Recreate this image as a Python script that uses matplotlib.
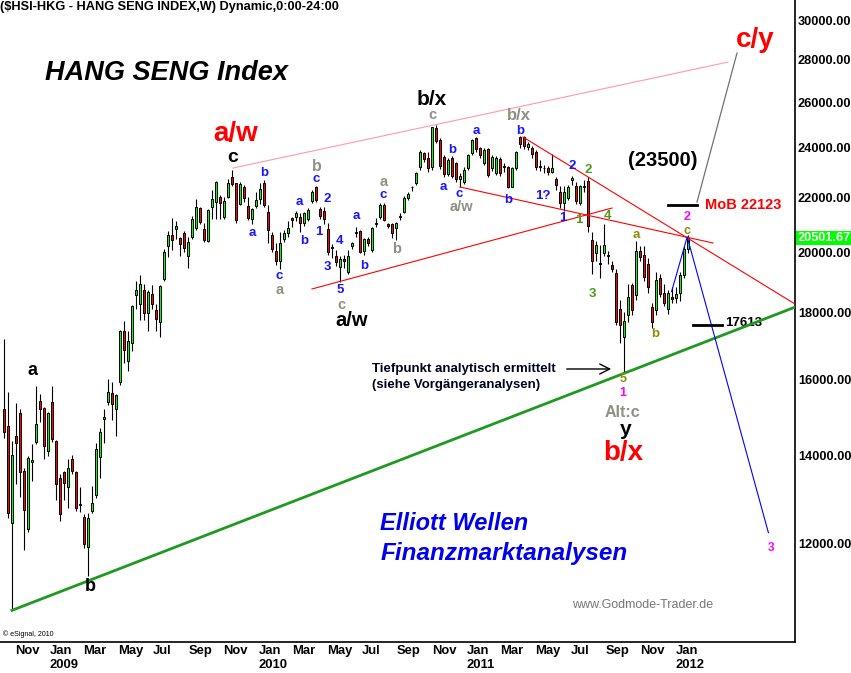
import numpy as np
import pandas as pd
import matplotlib
matplotlib.use('Agg')
import matplotlib.pyplot as plt
from matplotlib.ticker import NullLocator
import matplotlib.transforms as mtransforms

plt.rcParams['font.family'] = ['Liberation Sans', 'DejaVu Sans']

# weekly candles of the Hang Seng Index, first bar = week of 13 Oct 2008
start = pd.Timestamp('2008-10-13')
opens = [15180, 14740, 12440, 14480, 15090, 13620, 12310, 13850, 14350, 15410,
         15210, 14120, 15380, 14360, 13460, 13600, 13240, 13910, 13600, 12840,
         12570, 11920, 12710, 13060, 13960, 14940, 15370, 15620, 15200, 15930,
         17420, 16520, 17060, 18550, 18260, 18710, 17960, 18570, 18070, 17680,
         19070, 20220, 20600, 20810, 20490, 20670, 19870, 20520, 20870, 21590,
         20810, 20400, 21650, 21820, 22030, 21250, 22030, 22790, 22560, 21740,
         22400, 21680, 21180, 21680, 21930, 22560, 21460, 20600, 20040, 19690,
         20450, 20670, 21220, 21280, 21280, 21050, 21180, 21880, 22400, 21580,
         21500, 20810, 20180, 19860, 19490, 19740, 19300, 20200, 20720, 20750,
         20050, 20450, 20070, 21050, 21280, 21720, 20990, 20990, 20850, 21250,
         21460, 21970, 22400, 22580, 23220, 23800, 23570, 23200, 24840, 24330,
         23610, 22930, 23590, 23360, 22730, 22620, 23160, 23770, 24410, 23980,
         23360, 23940, 23160, 22950, 23530, 23250, 23200, 22420, 23160, 24450,
         24450, 24050, 23980, 23840, 23250, 23160, 23160, 23020, 22740, 22230,
         21780, 22000, 22700, 22450, 21780, 22420, 22650, 20420, 19950, 19630,
         19950, 19900, 19560, 19270, 18110, 17240, 17900, 18880, 18550, 20050,
         19900, 19600, 18150, 18080, 19100, 18600, 18110, 18500, 18450, 18600,
         19200, 20110]
highs = [17160, 15640, 14360, 15360, 15190, 13700, 14000, 14280, 15820, 15590,
         15250, 15120, 15820, 14400, 13560, 13620, 13920, 14010, 13620, 13240,
         12640, 12670, 13280, 14310, 14690, 15190, 16000, 15930, 15600, 17450,
         17720, 17420, 18230, 19010, 19210, 18910, 18710, 18880, 18260, 18880,
         20090, 20750, 21220, 21120, 20540, 20750, 20520, 21300, 21930, 21630,
         21030, 21580, 22290, 22650, 22100, 22030, 22730, 23100, 22580, 22600,
         22490, 22030, 21590, 22230, 22560, 22690, 21720, 20700, 20310, 20720,
         20790, 21120, 21260, 21500, 21400, 21450, 21600, 22290, 22450, 21650,
         21630, 21030, 20300, 20070, 19860, 19900, 20070, 20360, 20900, 20800,
         20500, 20550, 20900, 21220, 21800, 21800, 21050, 21050, 21090, 21400,
         22050, 22200, 22450, 23000, 23910, 23850, 23840, 24900, 24990, 24400,
         23700, 23600, 23660, 23420, 22950, 23200, 23750, 24370, 24480, 24050,
         24000, 24000, 23700, 23650, 23630, 23360, 23250, 23200, 23880, 24500,
         24500, 24250, 24100, 23900, 23500, 23300, 23250, 23750, 22800, 22460,
         22460, 22500, 22850, 22600, 22500, 22700, 22800, 20720, 20400, 20250,
         21020, 20050, 19700, 19400, 18400, 18000, 18900, 18950, 20400, 20200,
         20200, 19800, 18300, 19300, 19250, 18900, 18700, 18800, 18800, 19300,
         20200, 20600]
lows = [14450, 12550, 10676, 13320, 13010, 11870, 12250, 13400, 14300, 14860,
        13910, 13980, 14350, 12950, 12490, 12950, 12780, 13550, 12710, 12690,
        11900, 11344, 12670, 13000, 13470, 14320, 15300, 14890, 14490, 15850,
        16480, 16250, 16830, 18100, 17760, 17760, 17420, 18100, 17420, 17240,
        19020, 19840, 20070, 20450, 19860, 20010, 19460, 20450, 20800, 20990,
        20360, 20350, 21180, 21180, 21180, 21180, 22000, 22450, 21050, 21700,
        21850, 21150, 20990, 21600, 21740, 21630, 20310, 20000, 19550, 19420,
        20350, 20550, 20900, 21100, 20720, 20950, 21100, 21800, 21850, 21200,
        21000, 19900, 19800, 19500, 18970, 19450, 19250, 20100, 20550, 19950,
        19900, 20200, 20000, 20900, 21200, 21100, 20850, 20500, 20420, 21150,
        21400, 21900, 22250, 22500, 23090, 23400, 23000, 23100, 24200, 23150,
        22800, 22850, 22750, 22600, 22400, 22550, 23100, 23700, 23850, 23600,
        23300, 22800, 23050, 22900, 22850, 23000, 22360, 22400, 23100, 24000,
        23950, 23900, 23600, 23100, 23050, 22950, 22900, 22950, 22300, 21590,
        21500, 21900, 22500, 21750, 21700, 22200, 20700, 19240, 19700, 19100,
        19870, 19600, 19300, 17600, 17040, 16170, 17700, 17900, 18400, 19700,
        19000, 18600, 17500, 17900, 18500, 18200, 17950, 18300, 18300, 18350,
        19100, 19950]
closes = [14600, 12670, 14010, 14310, 13600, 12720, 13940, 13890, 14790, 15180,
          14250, 15080, 14420, 13310, 12630, 13340, 13690, 13620, 12770, 12870,
          11990, 12560, 12880, 14160, 14580, 14990, 15650, 15330, 15560, 17420,
          16850, 17100, 18200, 18710, 18910, 17980, 18640, 18260, 17780, 18840,
          19990, 20600, 20420, 20930, 20270, 20130, 20340, 21180, 21630, 21070,
          20420, 21530, 21930, 22600, 21800, 21880, 22560, 22520, 21150, 22520,
          21970, 21220, 21550, 21910, 22320, 21720, 20790, 20110, 19690, 20310,
          20670, 20870, 21150, 21430, 21050, 21400, 21530, 22230, 21910, 21300,
          21180, 19990, 20130, 19660, 19740, 19700, 19860, 20310, 20670, 20010,
          20450, 20310, 20870, 21000, 21720, 21150, 20930, 20670, 21030, 21300,
          21970, 22130, 22420, 22950, 23840, 23520, 23160, 24880, 24300, 23250,
          22920, 23500, 22850, 22730, 22850, 23110, 23700, 24330, 23940, 23700,
          23910, 22890, 23610, 23590, 22950, 23230, 22400, 23160, 23840, 24150,
          24080, 24160, 23750, 23200, 23200, 23180, 23020, 23160, 22490, 21780,
          22230, 22400, 22750, 21870, 22450, 22440, 20950, 19700, 20250, 19580,
          20250, 19870, 19400, 17700, 17590, 17710, 18500, 18070, 20020, 19840,
          19140, 18820, 17690, 19040, 18590, 18290, 18630, 18430, 18590, 19200,
          20110, 20501.67]
last_close = 20501.67

# price axis and month labels
price_ticks = [12000, 14000, 16000, 18000, 20000, 22000, 24000, 26000, 28000, 30000]
month_starts = pd.date_range('2008-11-01', '2012-01-01', freq='2MS')

# hand-drawn lines of the analysis, (week, price)
support = [(2, 10676), (155, 16170)]
rising_red = [(77, 18746), (152, 21602)]
falling_red_low = [(114, 22412), (177.25, 20318)]
falling_red_high = [(129.75, 24462), (197.75, 18258)]
pink_line = [(57.25, 23170), (181, 27896)]
grey_line = [(173.25, 21830), (183.25, 28340)]
blue_path = [(166.9, 18660), (170.8, 20540), (191.1, 12232)]
mob_level = 21726
low_level = 17613

opens, highs, lows, closes = map(np.array, (opens, highs, lows, closes))
weeks = np.arange(len(closes))

fig = plt.figure(figsize=(8.51, 6.73), dpi=100)
ax = fig.add_axes([0, 31 / 673, 795 / 851, 642 / 673])
ax.set_yscale('log')
ax.set_ylim(10100, 31100)
ax.set_xlim(-1, 197.75)

# candles
up = closes >= opens
body_lo = np.minimum(opens, closes)
body_hi = np.maximum(opens, closes)
ax.vlines(weeks, lows, highs, color='black', lw=0.8, zorder=3)
ax.bar(weeks, body_hi - body_lo, bottom=body_lo, width=0.7,
       color=np.where(up, '#00ff00', '#ff0000'), edgecolor='black',
       linewidth=0.7, zorder=4)

# trend lines
xr = ax.get_xlim()[1]
(x0, p0), (x1, p1) = support
k = np.log(p1 / p0) / (x1 - x0)
ax.plot([x0, xr], [p0, p0 * np.exp(k * (xr - x0))], color='#1f991f', lw=2.0, zorder=5)
for seg in (rising_red, falling_red_low, falling_red_high):
    ax.plot(*zip(*seg), color='#ff0000', lw=0.8, zorder=5)
ax.plot(*zip(*pink_line), color='#ff9aaa', lw=0.8, zorder=2)
ax.plot(*zip(*grey_line), color='#707070', lw=0.9, zorder=5)
ax.plot(*zip(*blue_path), color='#0000ff', lw=0.8, zorder=5)
ax.plot([166, 173.25], [mob_level, mob_level], color='black', lw=2.0, zorder=5)
ax.plot([172.25, 179.5], [low_level, low_level], color='black', lw=2.0, zorder=5)
ax.annotate('', xy=(152.5, 16294), xytext=(140, 16294),
            arrowprops=dict(arrowstyle='->', color='black', lw=1.0, mutation_scale=18))

# wave labels: (week, price, text, colour, size)
blue, grey, olive, green, mag = '#1515ff', '#8f8f86', '#8c8c00', '#4c9a1c', '#ff00ff'
labels = [
    (7.25, 16238, 'a', 'black', 13), (21.5, 11124, 'b', 'black', 13),
    (57.25, 23620, 'c', 'black', 14), (58, 24592, 'a/w', 'red', 20),
    (65, 22968, 'b', blue, 9.5), (62, 20676, 'a', blue, 9.5),
    (68.75, 19180, 'c', blue, 9.5), (69, 18700, 'a', grey, 10.5),
    (73.75, 21830, 'a', blue, 9.5), (75, 20388, 'b', blue, 9.5),
    (78.25, 23252, 'b', grey, 11.5), (78, 22728, 'c', blue, 9.5),
    (80.75, 21946, '2', blue, 9.5), (78.75, 20712, '1', blue, 9.5),
    (80.75, 19480, '3', blue, 9.5), (84, 20388, '4', blue, 9.5),
    (84, 18700, '5', blue, 9.5), (84.25, 18230, 'c', grey, 10.5),
    (87, 17754, 'a/w', 'black', 14.5), (88, 21302, 'a', blue, 9.5),
    (90, 19516, 'b', blue, 9.5), (95, 22608, 'a', grey, 10.5),
    (94.75, 22100, 'c', blue, 9.5), (98.25, 20106, 'b', grey, 10.5),
    (107, 26146, 'b/x', 'black', 15), (107, 25422, 'c', grey, 10.5),
    (112, 23912, 'b', blue, 9.5), (109.75, 22412, 'a', blue, 9.5),
    (113.75, 22136, 'c', blue, 9.5), (114.25, 21640, 'a/w', grey, 10.5),
    (118, 24720, 'a', blue, 9.5), (128.75, 25422, 'b/x', grey, 12),
    (129, 24720, 'b', blue, 9.5), (126, 21906, 'b', blue, 9.5),
    (134.75, 22062, '1?', blue, 9.5), (142, 23252, '2', blue, 9.5),
    (139.75, 21226, '1', blue, 9.5), (146, 23088, '2', green, 9.5),
    (143.75, 21152, '1', green, 9.5), (151, 21302, '4', green, 9.5),
    (147, 18582, '3', green, 9.5), (158, 20604, 'a', olive, 9.5),
    (162.75, 17324, 'b', olive, 9.5), (170.75, 20760, 'c', olive, 9),
    (170.75, 21260, '2', mag, 9), (154.75, 16012, '5', olive, 9),
    (154.75, 15624, '1', mag, 9), (154.5, 15086, 'Alt:c', grey, 11.5),
    (155.5, 14644, 'y', 'black', 15), (154.75, 14066, 'b/x', 'red', 20),
    (187.75, 28992, 'c/y', 'red', 20), (191.75, 11910, '3', mag, 8.5),
    (164.75, 23496, '(23500)', 'black', 14.5),
]
for x, p, s, c, fs in labels:
    ax.text(x, p, s, color=c, fontsize=fs, fontweight='bold', ha='center', va='center', zorder=6)

ax.text(10.25, 27364, 'HANG SENG Index', fontsize=19.5, fontweight='bold', style='italic',
        ha='left', va='center')
ax.text(175.25, 21716, 'MoB 22123', color='red', fontsize=10.5, fontweight='bold', va='center')
ax.text(180.25, 17662, '17613', color='black', fontsize=9.5, fontweight='bold', va='center')
ax.text(92, 16294, 'Tiefpunkt analytisch ermittelt', color='#000020', fontsize=9.5,
        fontweight='bold', va='center')
ax.text(92, 15844, '(siehe Vorgängeranalysen)', color='#000020', fontsize=9.5,
        fontweight='bold', va='center')
ax.text(94, 12420, 'Elliott Wellen', color='#0000ee', fontsize=17, fontweight='bold',
        style='italic', va='center')
ax.text(94.25, 11786, 'Finanzmarktanalysen', color='#0000ee', fontsize=17.5,
        fontweight='bold', style='italic', va='center')
ax.text(142, 10778, 'www.Godmode-Trader.de', color='#777777', fontsize=9, va='center')

# axes
for side in ('left', 'top'):
    ax.spines[side].set_visible(False)
for side in ('right', 'bottom'):
    ax.spines[side].set_linewidth(1.2)
ax.yaxis.tick_right()
ax.yaxis.set_minor_locator(NullLocator())
ax.set_yticks(price_ticks)
ax.set_yticklabels([f'{v:.2f}' for v in price_ticks], fontsize=9.2, fontweight='bold')
ax.tick_params(axis='y', length=0, pad=2)

month_pos = [(d - start).days / 7 for d in month_starts]
month_lab = [d.strftime('%b') + ('\n' + str(d.year) if d.month == 1 else '') for d in month_starts]
ax.set_xticks(month_pos)
ax.set_xticklabels(month_lab, fontsize=9.4, fontweight='bold', ha='left', ma='left')
ax.tick_params(axis='x', length=0, pad=2)

trans = mtransforms.blended_transform_factory(ax.transAxes, ax.transData)
ax.text(1.003, last_close, f'{last_close:.2f}', transform=trans, color='white', fontsize=9.2,
        fontweight='bold', va='center', ha='left', zorder=7,
        bbox=dict(facecolor='#00ff00', edgecolor='none', pad=0.6))

fig.text(0.0, 0.998, '($HSI-HKG - HANG SENG INDEX,W) Dynamic,0:00-24:00', fontsize=9.2,
         fontweight='bold', ha='left', va='top')
fig.text(3 / 851, 1 - 634 / 673, '\u00a9 eSignal, 2010', fontsize=5, va='center')

fig.savefig('out.png', dpi=100)
